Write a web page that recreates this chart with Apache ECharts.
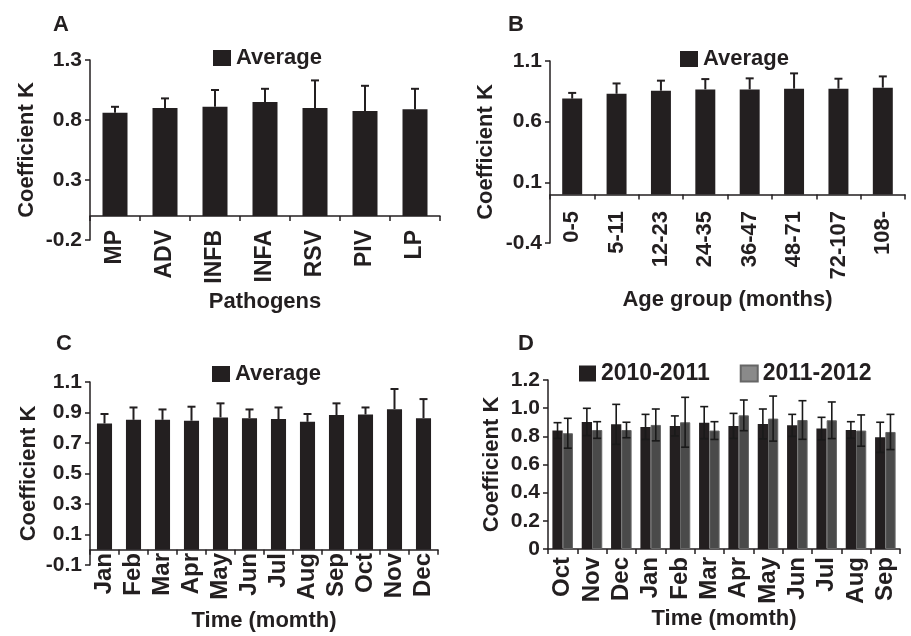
<!DOCTYPE html>
<html><head><meta charset="utf-8">
<script src="https://cdn.jsdelivr.net/npm/echarts@6/dist/echarts.min.js"></script>
<style>html,body{margin:0;padding:0;background:#fff}#c{width:911px;height:636px}</style>
</head><body><div id="c"></div>
<script>
// Panel A
const pathogens = ['MP','ADV','INFB','INFA','RSV','PIV','LP'];
const pathMean = [0.86,0.90,0.91,0.95,0.90,0.875,0.89];
const pathSD   = [0.05,0.08,0.14,0.11,0.23,0.21,0.17];
const ticksA = [-0.2,0.3,0.8,1.3];
// Panel B
const ageGroups = ['0-5','5-11','12-23','24-35','36-47','48-71','72-107','108-'];
const ageMean = [0.79,0.83,0.855,0.866,0.866,0.872,0.872,0.88];
const ageSD   = [0.047,0.085,0.083,0.085,0.091,0.126,0.082,0.093];
const ticksB = [-0.4,0.1,0.6,1.1];
// Panel C
const monthsC = ['Jan','Feb','Mar','Apr','May','Jun','Jul','Aug','Sep','Oct','Nov','Dec'];
const monMean = [0.828,0.852,0.852,0.846,0.868,0.863,0.857,0.839,0.883,0.887,0.922,0.863];
const monSD   = [0.062,0.081,0.068,0.092,0.092,0.057,0.076,0.051,0.077,0.046,0.132,0.125];
const ticksC = [-0.1,0.1,0.3,0.5,0.7,0.9,1.1];
// Panel D
const monthsD = ['Oct','Nov','Dec','Jan','Feb','Mar','Apr','May','Jun','Jul','Aug','Sep'];
const s1011Mean = [0.841,0.902,0.885,0.867,0.874,0.897,0.874,0.888,0.878,0.855,0.845,0.793];
const s1011SD   = [0.056,0.097,0.142,0.089,0.071,0.114,0.089,0.106,0.078,0.080,0.059,0.107];
const s1112Mean = [0.822,0.845,0.845,0.881,0.900,0.841,0.949,0.926,0.916,0.914,0.841,0.831];
const s1112SD   = [0.106,0.059,0.055,0.113,0.177,0.063,0.109,0.160,0.137,0.130,0.111,0.125];
const ticksD = [0,0.2,0.4,0.6,0.8,1.0,1.2];

const FONT = '"Liberation Sans", Arial, sans-serif';
const INK = '#231f20';
const fmt = v => Math.abs(v) < 1e-9 ? '0' : v.toFixed(1);

function yAx(idx, min, max, ticks, gap) {
  return {
    type:'value', gridIndex: idx, min, max,
    name:'Coefficient K', nameLocation:'middle', nameGap: gap,
    nameTextStyle:{fontFamily:FONT, fontWeight:'bold', fontSize:22, color:INK},
    axisLine:{show:true, lineStyle:{color:INK, width:1.5}},
    axisTick:{show:true, length:5, customValues: ticks, lineStyle:{color:INK, width:1.5}},
    axisLabel:{customValues: ticks, formatter: fmt, margin:8, fontFamily:FONT, fontWeight:'bold', fontSize:21, color:INK},
    splitLine:{show:false}
  };
}
function xAx(idx, cats, name, gap, margin, fs) {
  return {
    type:'category', gridIndex: idx, data: cats,
    name, nameLocation:'middle', nameGap: gap, nameMoveOverlap:false,
    nameTextStyle:{fontFamily:FONT, fontWeight:'bold', fontSize:22, color:INK},
    axisLine:{show:true, onZero:true, lineStyle:{color:INK, width:1.5}},
    axisTick:{show:true, length:5, alignWithLabel:false, lineStyle:{color:INK, width:1.5}},
    axisLabel:{rotate:90, interval:0, margin, fontFamily:FONT, fontWeight:'bold', fontSize:fs, color:INK},
    splitLine:{show:false}
  };
}
function errUp(params, api) {
  const x = api.value(0), m = api.value(1), s = api.value(2);
  const p0 = api.coord([x, m]), p1 = api.coord([x, m + s]);
  const st = {stroke: INK, lineWidth: 2};
  return {type:'group', children:[
    {type:'line', shape:{x1:p0[0], y1:p0[1], x2:p1[0], y2:p1[1]}, style:st},
    {type:'line', shape:{x1:p1[0]-4, y1:p1[1], x2:p1[0]+4, y2:p1[1]}, style:st}
  ]};
}
function errBoth(sign) {
  return function(params, api) {
    const x = api.value(0), m = api.value(1), s = api.value(2);
    const cw = api.size([1, 0])[0];
    const off = sign * 0.175 * cw;
    const pu = api.coord([x, m + s]), pd = api.coord([x, m - s]);
    const cx = pu[0] + off;
    const st = {stroke: '#1a1a1a', lineWidth: 1.6};
    return {type:'group', children:[
      {type:'line', shape:{x1:cx, y1:pu[1], x2:cx, y2:pd[1]}, style:st},
      {type:'line', shape:{x1:cx-4, y1:pu[1], x2:cx+4, y2:pu[1]}, style:st},
      {type:'line', shape:{x1:cx-4, y1:pd[1], x2:cx+4, y2:pd[1]}, style:st}
    ]};
  };
}
const triples = (mean, sd) => mean.map((m, i) => [i, m, sd[i]]);

const legendText = {fontFamily:FONT, fontWeight:'bold', fontSize:22, color:INK};
const letter = {fontFamily:FONT, fontWeight:'bold', fontSize:22, color:INK};
const option = {
  backgroundColor:'#fff',
  animation:false,
  title:[
    {text:'A', left:48, top:9, textStyle:letter},
    {text:'B', left:503, top:9, textStyle:letter},
    {text:'C', left:51, top:328, textStyle:letter},
    {text:'D', left:513, top:328, textStyle:letter}
  ],
  legend:[
    {left:208, top:42, itemWidth:18, itemHeight:16, itemGap:8, icon:'rect', textStyle:legendText, data:[{name:'Average', itemStyle:{color:INK}}], selectedMode:false},
    {left:675, top:43, itemWidth:18, itemHeight:16, icon:'rect', textStyle:legendText, data:[{name:'Average B', itemStyle:{color:INK}}], formatter:()=> 'Average', selectedMode:false},
    {left:207, top:358, itemWidth:18, itemHeight:16, icon:'rect', textStyle:legendText, data:[{name:'Average C', itemStyle:{color:INK}}], formatter:()=> 'Average', selectedMode:false},
    {left:574, top:357, itemWidth:17, itemHeight:16, itemGap:30, icon:'rect', textStyle:Object.assign({}, legendText, {fontSize:23}), data:[{name:'2010-2011', itemStyle:{color:INK}}, {name:'2011-2012', itemStyle:{color:'#8a8a8a'}}], selectedMode:false}
  ],
  grid:[
    {left:90, top:60, width:350, height:180},
    {left:550, top:61, width:355, height:182},
    {left:90, top:382, width:348, height:183},
    {left:548, top:380, width:352, height:169}
  ],
  xAxis:[
    xAx(0, pathogens, 'Pathogens', 51, -10, 23),
    xAx(1, ageGroups, 'Age group (months)', 46, -32, 22),
    xAx(2, monthsC, 'Time (momth)', 45, -12, 24),
    xAx(3, monthsD, 'Time (momth)', 59, 8, 24)
  ],
  yAxis:[
    yAx(0, -0.2, 1.3, ticksA, 52),
    yAx(1, -0.4, 1.1, ticksB, 53),
    yAx(2, -0.1, 1.1, ticksC, 50),
    yAx(3, 0, 1.2, ticksD, 45)
  ],
  series:[
    {type:'bar', name:'Average', xAxisIndex:0, yAxisIndex:0, data:pathMean, barCategoryGap:'50%', itemStyle:{color:INK}},
    {type:'custom', xAxisIndex:0, yAxisIndex:0, renderItem:errUp, data:triples(pathMean, pathSD), encode:{x:0, y:1}, z:5},
    {type:'bar', name:'Average B', xAxisIndex:1, yAxisIndex:1, data:ageMean, barCategoryGap:'55%', itemStyle:{color:INK}},
    {type:'custom', xAxisIndex:1, yAxisIndex:1, renderItem:errUp, data:triples(ageMean, ageSD), encode:{x:0, y:1}, z:5},
    {type:'bar', name:'Average C', xAxisIndex:2, yAxisIndex:2, data:monMean, barCategoryGap:'48%', itemStyle:{color:INK}},
    {type:'custom', xAxisIndex:2, yAxisIndex:2, renderItem:errUp, data:triples(monMean, monSD), encode:{x:0, y:1}, z:5},
    {type:'bar', name:'2010-2011', xAxisIndex:3, yAxisIndex:3, data:s1011Mean, barCategoryGap:'30%', barGap:'0%', itemStyle:{color:INK}},
    {type:'bar', name:'2011-2012', xAxisIndex:3, yAxisIndex:3, data:s1112Mean, barCategoryGap:'30%', barGap:'0%', itemStyle:{color:'#4a4a4a', borderColor:'#666', borderWidth:1}},
    {type:'custom', xAxisIndex:3, yAxisIndex:3, renderItem:errBoth(-1), data:triples(s1011Mean, s1011SD), encode:{x:0, y:1}, z:5},
    {type:'custom', xAxisIndex:3, yAxisIndex:3, renderItem:errBoth(1), data:triples(s1112Mean, s1112SD), encode:{x:0, y:1}, z:5}
  ]
};
const chart = echarts.init(document.getElementById('c'), null, {renderer:'canvas'});
chart.setOption(option);
</script></body></html>
